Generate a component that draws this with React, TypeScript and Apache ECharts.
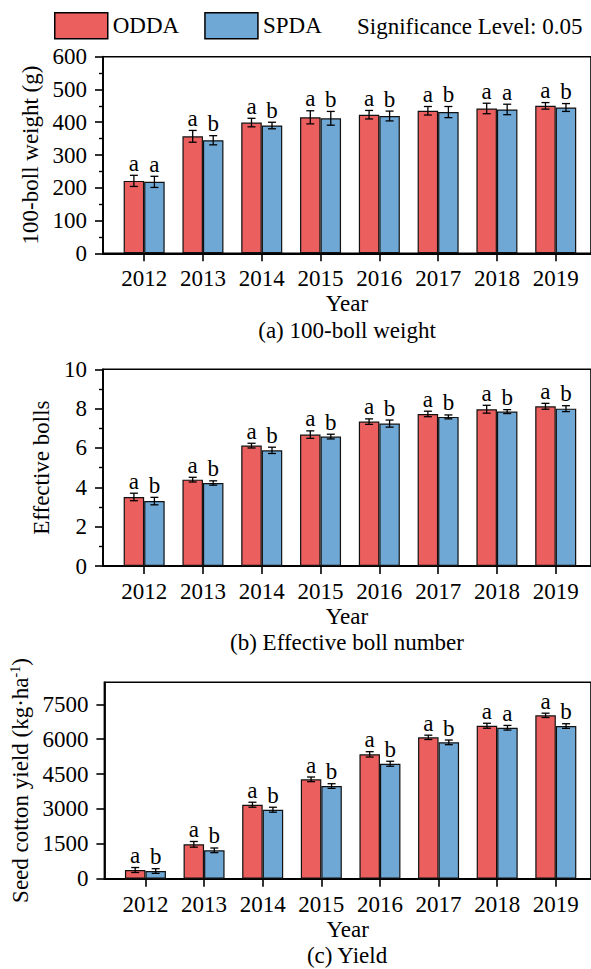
import React, { useEffect, useRef } from "react";
import * as echarts from "echarts";

const YEARS = [2012, 2013, 2014, 2015, 2016, 2017, 2018, 2019];
const SERIES_NAMES = ["ODDA", "SPDA"];

const WEIGHT_ODDA = [221, 357, 399, 415, 423, 435, 442, 450];
const WEIGHT_ODDA_ERR = [17, 18, 13, 20, 13, 13, 16, 10];
const WEIGHT_SPDA = [218, 345, 390, 412, 419, 431, 439, 445];
const WEIGHT_SPDA_ERR = [17, 14, 10, 21, 15, 17, 16, 12];
const WEIGHT_ODDA_SIG = ["a", "a", "a", "a", "a", "a", "a", "a"];
const WEIGHT_SPDA_SIG = ["a", "b", "b", "b", "b", "b", "a", "b"];

const BOLLS_ODDA = [3.51, 4.39, 6.12, 6.68, 7.34, 7.73, 7.97, 8.12];
const BOLLS_ODDA_ERR = [0.19, 0.12, 0.12, 0.19, 0.14, 0.14, 0.2, 0.15];
const BOLLS_SPDA = [3.3, 4.22, 5.88, 6.58, 7.24, 7.58, 7.85, 8.0];
const BOLLS_SPDA_ERR = [0.19, 0.11, 0.16, 0.12, 0.18, 0.1, 0.1, 0.15];
const BOLLS_ODDA_SIG = ["a", "a", "a", "a", "a", "a", "a", "a"];
const BOLLS_SPDA_SIG = ["b", "b", "b", "b", "b", "b", "b", "b"];

const YIELD_ODDA = [374, 1479, 3183, 4275, 5350, 6082, 6581, 7028];
const YIELD_ODDA_ERR = [107, 122, 107, 100, 115, 93, 107, 93];
const YIELD_SPDA = [331, 1221, 2968, 3987, 4946, 5866, 6495, 6568];
const YIELD_SPDA_ERR = [100, 100, 107, 100, 107, 100, 100, 100];
const YIELD_ODDA_SIG = ["a", "a", "a", "a", "a", "a", "a", "a"];
const YIELD_SPDA_SIG = ["b", "b", "b", "b", "b", "b", "a", "b"];

const YIELD_TICKS = [0, 1500, 3000, 4500, 6000, 7500];
const YIELD_MINOR_TICKS = [750, 2250, 3750, 5250, 6750, 8250];

const TITLES = ["100-boll weight (g)", "Effective bolls", "Seed cotton yield (kg·ha{sup|-1})"];
const CAPTIONS = ["(a) 100-boll weight", "(b) Effective boll number", "(c) Yield"];
const X_NAME = "Year";
const NOTE = "Significance Level: 0.05";

const FONT = '"Liberation Serif", "Times New Roman", serif';
const RED = "#EC5F5F";
const BLUE = "#6FA7D5";
const BAR_W = 20.5;
const GRID_LEFT = 103;
const GRID_W = 488;
const GRID_TOPS = [56.7, 369.3, 682.3];
const GRID_H = [196.6, 196.7, 196.4];

export default function App() {
  const ref = useRef<HTMLDivElement>(null);

  useEffect(() => {
    if (!ref.current) return;
    const chart = echarts.init(ref.current, null, { renderer: "svg" });

    const panels = [
      { a: WEIGHT_ODDA, ae: WEIGHT_ODDA_ERR, as: WEIGHT_ODDA_SIG, b: WEIGHT_SPDA, be: WEIGHT_SPDA_ERR, bs: WEIGHT_SPDA_SIG },
      { a: BOLLS_ODDA, ae: BOLLS_ODDA_ERR, as: BOLLS_ODDA_SIG, b: BOLLS_SPDA, be: BOLLS_SPDA_ERR, bs: BOLLS_SPDA_SIG },
      { a: YIELD_ODDA, ae: YIELD_ODDA_ERR, as: YIELD_ODDA_SIG, b: YIELD_SPDA, be: YIELD_SPDA_ERR, bs: YIELD_SPDA_SIG },
    ];

    const axisLine = { show: true, lineStyle: { color: "#000", width: 1.8 } };
    const labelStyle = { color: "#000", fontSize: 23, fontFamily: FONT };

    const grids = GRID_TOPS.map((t, i) => ({
      left: GRID_LEFT,
      top: t,
      width: GRID_W,
      height: GRID_H[i],
      show: true,
      borderColor: "#000",
      borderWidth: 1.6,
      backgroundColor: "transparent",
    }));

    const xAxes = GRID_TOPS.map((_, i) => ({
      type: "value",
      gridIndex: i,
      min: 2011.3,
      max: 2019.6,
      axisLine,
      axisTick: { show: true, customValues: YEARS, length: 8, lineStyle: { color: "#000", width: 1.6 } },
      axisLabel: { ...labelStyle, customValues: YEARS, margin: 14, formatter: (v: number) => String(v) },
      splitLine: { show: false },
      name: X_NAME,
      nameLocation: "middle",
      nameGap: 39,
      nameTextStyle: { ...labelStyle },
    }));

    const yCommon = {
      type: "value",
      axisLine,
      axisTick: { show: true, length: 8, lineStyle: { color: "#000", width: 1.6 } },
      minorTick: { show: true, splitNumber: 2, length: 4, lineStyle: { color: "#000", width: 1.4 } },
      axisLabel: { ...labelStyle, margin: 16, formatter: (v: number) => String(v) },
      splitLine: { show: false },
      minorSplitLine: { show: false },
      nameLocation: "middle",
      nameTextStyle: { ...labelStyle },
    };

    const yAxes: any[] = [
      { ...yCommon, gridIndex: 0, min: 0, max: 600, interval: 100, name: TITLES[0], nameGap: 52 },
      { ...yCommon, gridIndex: 1, min: 0, max: 10, interval: 2, name: TITLES[1], nameGap: 43 },
      {
        ...yCommon,
        gridIndex: 2,
        min: 0,
        max: 8450,
        minorTick: { show: false },
        axisTick: { show: true, customValues: YIELD_TICKS, length: 8, lineStyle: { color: "#000", width: 1.6 } },
        axisLabel: { ...labelStyle, margin: 16, customValues: YIELD_TICKS, formatter: (v: number) => String(v) },
        name: TITLES[2],
        nameGap: 64,
        nameTextStyle: { ...labelStyle, rich: { sup: { fontSize: 14, fontFamily: FONT, color: "#000", verticalAlign: "top", padding: [0, 0, 10, 0] } } },
      },
      {
        type: "value",
        gridIndex: 2,
        min: 0,
        max: 8450,
        axisLine: { show: false },
        axisLabel: { show: false },
        splitLine: { show: false },
        axisTick: { show: true, customValues: YIELD_MINOR_TICKS, length: 4, lineStyle: { color: "#000", width: 1.4 } },
      },
    ];

    const series: any[] = [];
    panels.forEach((p, i) => {
      const groups = [
        { name: SERIES_NAMES[0], vals: p.a, errs: p.ae, sig: p.as, color: RED, offset: -BAR_W / 2 },
        { name: SERIES_NAMES[1], vals: p.b, errs: p.be, sig: p.bs, color: BLUE, offset: BAR_W / 2 },
      ];
      groups.forEach((g) => {
        series.push({
          type: "bar",
          name: g.name,
          xAxisIndex: i,
          yAxisIndex: i,
          barWidth: BAR_W,
          barGap: "0%",
          data: YEARS.map((y, k) => [y, g.vals[k]]),
          itemStyle: { color: g.color, borderColor: "#111", borderWidth: 1.2 },
          emphasis: { disabled: true },
          silent: true,
        });
      });
      groups.forEach((g) => {
        series.push({
          type: "custom",
          name: g.name + " error",
          xAxisIndex: i,
          yAxisIndex: i,
          z: 5,
          silent: true,
          data: YEARS.map((y, k) => [y, g.vals[k], g.errs[k]]),
          renderItem: (params: any, api: any) => {
            const x = api.value(0);
            const v = api.value(1);
            const e = api.value(2);
            const top = api.coord([x, v + e]);
            const bot = api.coord([x, v - e]);
            const cx = top[0] + g.offset;
            const cap = 4;
            const ls = { stroke: "#000", lineWidth: 1.3 };
            return {
              type: "group",
              children: [
                { type: "line", shape: { x1: cx, y1: top[1], x2: cx, y2: bot[1] }, style: ls },
                { type: "line", shape: { x1: cx - cap, y1: top[1], x2: cx + cap, y2: top[1] }, style: ls },
                { type: "line", shape: { x1: cx - cap, y1: bot[1], x2: cx + cap, y2: bot[1] }, style: ls },
                {
                  type: "text",
                  x: cx,
                  y: top[1] - 12,
                  style: {
                    text: g.sig[params.dataIndex],
                    fill: "#000",
                    fontSize: 23,
                    fontFamily: FONT,
                    align: "center",
                    verticalAlign: "middle",
                  },
                },
              ],
            };
          },
        });
      });
    });

    const captionY = [330, 642.7, 955.4];
    const graphic: any[] = [
      {
        type: "text",
        x: 357,
        y: 26,
        style: { text: NOTE, fill: "#000", fontSize: 23, fontFamily: FONT, verticalAlign: "middle" },
      },
      ...CAPTIONS.map((c, i) => ({
        type: "text",
        x: GRID_LEFT + GRID_W / 2,
        y: captionY[i],
        style: { text: c, fill: "#000", fontSize: 23, fontFamily: FONT, align: "center", verticalAlign: "middle" },
      })),
    ];

    chart.setOption({
      animation: false,
      textStyle: { fontFamily: FONT, color: "#000" },
      legend: {
        data: SERIES_NAMES,
        left: 54,
        top: 12,
        itemWidth: 53,
        itemHeight: 26,
        itemGap: 25,
        icon: "rect",
        selectedMode: false,
        padding: 0,
        textStyle: { fontSize: 23, fontFamily: FONT, color: "#000" },
        itemStyle: { borderColor: "#000", borderWidth: 1.5 },
      },
      grid: grids,
      xAxis: xAxes,
      yAxis: yAxes,
      series,
      graphic,
    });

    return () => chart.dispose();
  }, []);

  return <div ref={ref} style={{ position: "absolute", left: 0, top: 0, width: 591, height: 969 }} />;
}
